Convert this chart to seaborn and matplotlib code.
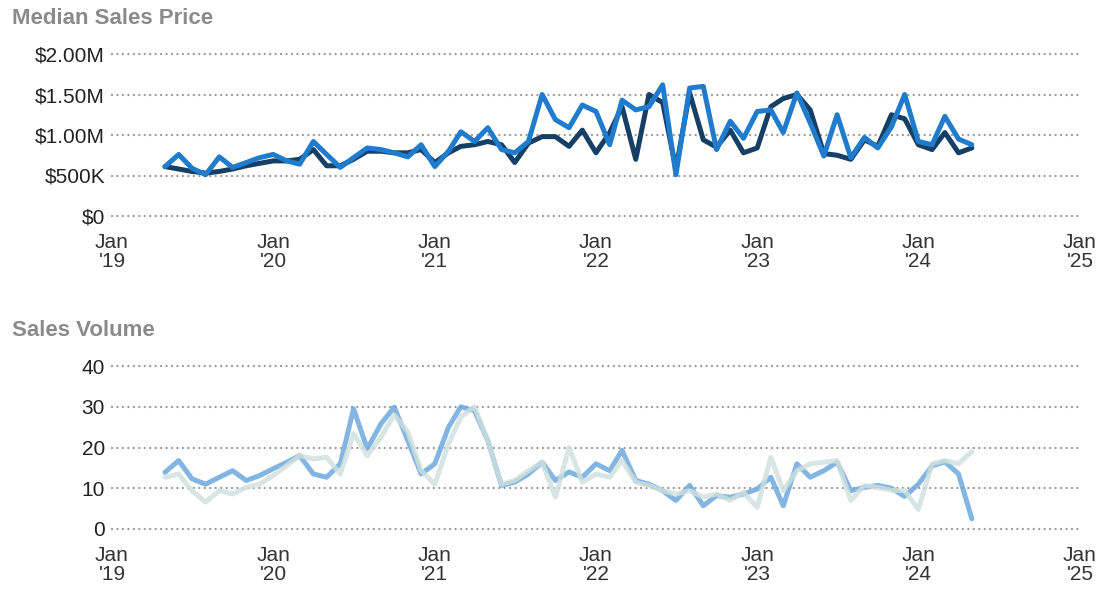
import pandas as pd
import numpy as np
import seaborn as sns
import matplotlib
matplotlib.use("Agg")
import matplotlib.pyplot as plt

# monthly, May 2019 .. May 2024
months = pd.date_range("2019-05-01", periods=61, freq="MS")

# Median Sales Price, in $M
price_bright = [0.61, 0.76, 0.59, 0.51, 0.73, 0.60, 0.66, 0.72, 0.76, 0.68,
                0.64, 0.92, 0.76, 0.60, 0.72, 0.84, 0.82, 0.78, 0.73, 0.88,
                0.61, 0.80, 1.04, 0.92, 1.09, 0.82, 0.78, 0.92, 1.50, 1.19,
                1.09, 1.37, 1.29, 0.88, 1.43, 1.31, 1.35, 1.62, 0.51, 1.58,
                1.60, 0.82, 1.17, 0.96, 1.29, 1.31, 1.03, 1.52, 1.15, 0.74,
                1.25, 0.72, 0.97, 0.84, 1.10, 1.50, 0.92, 0.88, 1.23, 0.95,
                0.88]
price_dark = [0.61, 0.58, 0.55, 0.53, 0.55, 0.58, 0.62, 0.65, 0.68, 0.68,
              0.70, 0.82, 0.62, 0.62, 0.70, 0.80, 0.80, 0.78, 0.78, 0.82,
              0.66, 0.78, 0.86, 0.88, 0.92, 0.88, 0.66, 0.90, 0.98, 0.98,
              0.86, 1.06, 0.78, 1.03, 1.35, 0.70, 1.50, 1.40, 0.58, 1.52,
              0.94, 0.85, 1.06, 0.78, 0.84, 1.35, 1.45, 1.50, 1.31, 0.77,
              0.75, 0.70, 0.94, 0.86, 1.25, 1.20, 0.88, 0.82, 1.03, 0.78,
              0.84]

# Sales Volume
vol_blue = [13.9, 16.8, 12.3, 11.0, 12.7, 14.3, 11.9, 13.1, 14.8, 16.4,
            18.0, 13.5, 12.7, 16.0, 29.5, 19.7, 25.8, 29.9, 21.7, 13.5,
            16.0, 25.0, 30.0, 29.0, 21.7, 10.7, 11.5, 13.5, 16.4, 11.9,
            14.0, 12.7, 16.0, 14.3, 19.3, 11.9, 11.0, 9.4, 7.0, 10.7,
            5.7, 8.2, 7.8, 8.6, 9.8, 12.7, 5.7, 16.0, 12.7, 14.3,
            16.4, 9.4, 10.2, 10.7, 10.0, 8.0, 11.0, 15.5, 16.5, 13.5,
            2.5]
vol_pale = [12.7, 13.5, 9.4, 6.6, 9.4, 8.6, 10.2, 11.0, 13.1, 15.6,
            18.0, 17.2, 17.6, 13.5, 23.4, 18.0, 22.5, 28.0, 23.8, 14.3,
            11.0, 20.9, 27.5, 30.0, 21.7, 11.0, 11.9, 14.3, 16.4, 7.8,
            20.0, 11.5, 13.5, 12.7, 16.8, 11.5, 10.7, 9.4, 8.6, 9.4,
            7.8, 8.6, 7.0, 9.0, 5.3, 17.6, 9.4, 14.3, 16.0, 16.4,
            16.8, 7.0, 10.7, 10.2, 9.5, 9.4, 4.8, 16.0, 16.8, 16.0,
            19.0]

year_ticks = pd.date_range("2019-01-01", "2025-01-01", freq="YS")
year_labels = ["Jan\n'%02d" % (d.year % 100) for d in year_ticks]
price_ticks = [0, 0.5e6, 1.0e6, 1.5e6, 2.0e6]
price_labels = ["$0", "$500K", "$1.00M", "$1.50M", "$2.00M"]
vol_ticks = [0, 10, 20, 30, 40]

sns.set_style("white")
plt.rcParams['font.family'] = ['Liberation Sans', 'DejaVu Sans']

price_df = pd.concat([
    pd.DataFrame({"month": months, "price": np.array(price_dark) * 1e6, "series": "dark"}),
    pd.DataFrame({"month": months, "price": np.array(price_bright) * 1e6, "series": "bright"}),
])
vol_df = pd.concat([
    pd.DataFrame({"month": months, "volume": vol_blue, "series": "blue"}),
    pd.DataFrame({"month": months, "volume": vol_pale, "series": "pale"}),
])

W, H = 1112, 592
fig = plt.figure(figsize=(W / 100, H / 100), dpi=100)
ax1 = fig.add_axes([112 / W, 1 - 216 / H, (1080 - 112) / W, 162 / H])
ax2 = fig.add_axes([112 / W, 1 - 529 / H, (1080 - 112) / W, 163 / H])

sns.lineplot(data=price_df, x="month", y="price", hue="series", ax=ax1,
             palette={"dark": "#163f66", "bright": "#1f7bcc"},
             linewidth=3.6, legend=False)
sns.lineplot(data=vol_df, x="month", y="volume", hue="series", ax=ax2,
             palette={"blue": "#64a3dc", "pale": "#cfe0dc"},
             linewidth=3.6, alpha=0.8, legend=False)

for ax, ticks in [(ax1, price_ticks), (ax2, vol_ticks)]:
    ax.set_xlim(year_ticks[0], year_ticks[-1])
    ax.set_ylim(ticks[0], ticks[-1])
    ax.set_yticks(ticks)
    ax.set_xticks(year_ticks)
    ax.set_xticklabels(year_labels, fontsize=15, color="#333333", linespacing=1.05)
    ax.tick_params(axis="x", length=0, pad=12)
    ax.tick_params(axis="y", length=0, pad=5, labelsize=15, labelcolor="#222222")
    ax.set_xlabel("")
    ax.set_ylabel("")
    for s in ax.spines.values():
        s.set_visible(False)
    for t in ticks:
        ax.axhline(t, color="#9a9a9a", linewidth=1.7, linestyle=(0, (0.01, 2.3)),
                   dash_capstyle="round", zorder=0, clip_on=False)
    ax.patch.set_alpha(0)

ax1.set_yticklabels(price_labels)
ax2.set_yticklabels([str(t) for t in vol_ticks])

fig.text(12 / W, 1 - 18 / H, "Median Sales Price", fontsize=16, fontweight="bold",
         color="#8a8a8a", va="center", ha="left")
fig.text(12 / W, 1 - 330 / H, "Sales Volume", fontsize=16, fontweight="bold",
         color="#8a8a8a", va="center", ha="left")

plt.savefig("out.png", dpi=100)
plt.close()
